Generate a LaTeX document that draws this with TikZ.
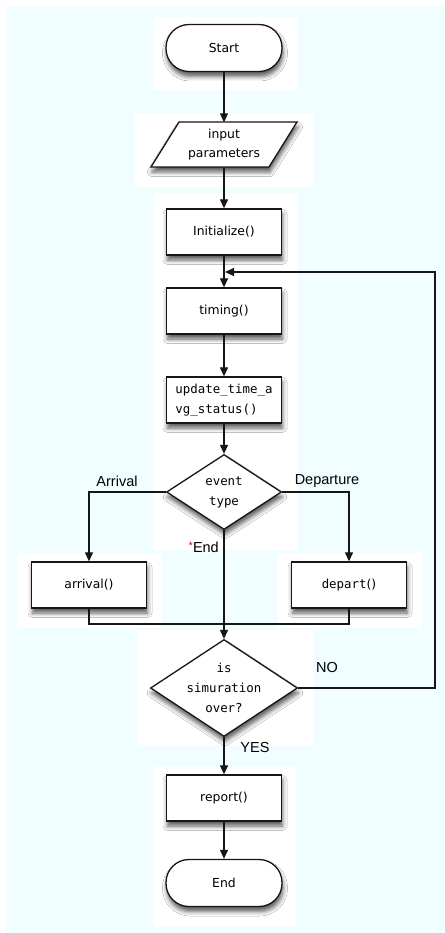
\documentclass[tikz,border=0pt]{standalone}
\usepackage{fontspec}
\setmainfont{DejaVu Sans}
\setmonofont{DejaVu Sans Mono}
\newfontfamily\lblfont{Liberation Sans}
\usetikzlibrary{shapes.geometric,arrows.meta,shadows.blur}

\definecolor{paper}{RGB}{240,254,255}
\definecolor{ink}{RGB}{22,22,22}

\tikzset{
  softshadow/.style={blur shadow={shadow xshift=1pt, shadow yshift=-5pt,
      shadow blur radius=4.5pt, shadow opacity=65}},
  block/.style={draw=ink, line width=1.3pt, fill=white, minimum width=115pt,
      minimum height=46pt, inner sep=0pt, align=center,
      font=\fontsize{12.4}{19}\selectfont, softshadow},
  term/.style={block, rounded corners=23pt, minimum width=116pt, minimum height=47pt},
  decision/.style={draw=ink, line width=1.3pt, fill=white, diamond, inner sep=0pt, softshadow},
  monotxt/.style={align=center, font=\ttfamily\fontsize{12.4}{20}\selectfont, inner sep=0pt},
  flow/.style={draw=ink, line width=1.2pt, -{Triangle[length=9pt,width=8pt]}},
  link/.style={draw=ink, line width=1.2pt},
  lbl/.style={font=\lblfont\fontsize{14.5}{16}\selectfont, inner sep=0pt},
  pad/.style={fill=white, draw=none},
}

\begin{document}
\begin{tikzpicture}[x=1pt,y=-1pt]
  \useasboundingbox (0,0) rectangle (444,933);
  % page and cyan canvas
  \fill[white] (0,0) rectangle (444,933);
  \fill[paper] (6,6) rectangle (444,933);

  % white pads behind the shapes
  \fill[pad] (153,17) rectangle (297,90);
  \fill[pad] (135,113) rectangle (313,187);
  \fill[pad] (153,193) rectangle (297,550);
  \fill[pad] (17,553) rectangle (162,628);
  \fill[pad] (277,553) rectangle (422,628);
  \fill[pad] (137,630) rectangle (313,745);
  \fill[pad] (153,767) rectangle (296,927);

  % shapes
  \node[term] (start) at (224,48) {Start};

  \draw[draw=ink, line width=1.3pt, fill=white, softshadow]
      (151,167) -- (269,167) -- (297,122) -- (179,122) -- cycle;
  \node[align=center, font=\fontsize{12.4}{19}\selectfont, inner sep=0pt,
        minimum width=118pt, minimum height=45pt] (inp) at (224,145) {input\\parameters};

  \node[block] (init) at (224,232) {Initialize()};
  \node[block] (timing) at (224,311) {timing()};
  \node[block, align=left, font=\ttfamily\fontsize{12.4}{20}\selectfont] (upd) at (224,400)
      {update\_time\_a\\vg\_status()};

  \node[decision, minimum width=115pt, minimum height=75pt] (ev) at (224,492) {};
  \node[monotxt] at (ev) {event\\type};

  \node[block] (arr) at (89,585) {arrival()};
  \node[block] (dep) at (349,585) {\texttt{depart}()};

  \node[decision, minimum width=147pt, minimum height=97pt] (over) at (224,688) {};
  \node[monotxt] at (over) {is\\simuration\\over?};

  \node[block] (rep) at (224,798) {report()};
  \node[term] (stop) at (224,883) {End};

  % connectors
  \coordinate (merge) at (224,624);
  \coordinate (loopcorner) at (435,272);
  \coordinate (loopin) at (225,272);

  \draw[flow] (start) -- (inp);
  \draw[flow] (inp) -- (init);
  \draw[flow] (init) -- (timing);
  \draw[flow] (timing) -- (upd);
  \draw[flow] (upd) -- (ev);
  \draw[flow] (ev.west) -| (arr.north);
  \draw[flow] (ev.east) -| (dep.north);
  \draw[flow] (ev.south) -- (over.north);
  \draw[link] (arr.south) |- (merge) -| (dep.south);
  \draw[flow] (over.east) -- (over.east -| loopcorner) -- (loopcorner) -- (loopin);
  \draw[flow] (over.south) -- (rep.north);
  \draw[flow] (rep) -- (stop);

  % branch labels
  \node[lbl] at (117,481) {Arrival};
  \node[lbl] at (327,481) {Departure};
  \node[lbl, anchor=east] at (219,547) {\textcolor{red}{\raisebox{3pt}{\fontsize{11}{11}\selectfont*}}End};
  \node[lbl] at (327,668) {NO};
  \node[lbl] at (255,747) {YES};
\end{tikzpicture}
\end{document}
